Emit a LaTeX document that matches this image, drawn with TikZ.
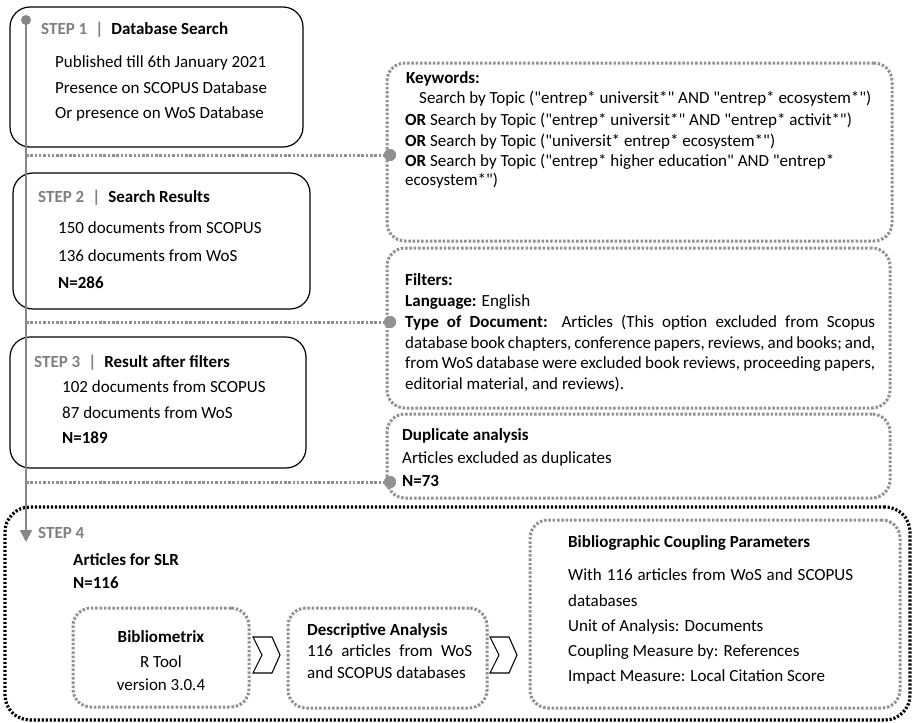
\documentclass[tikz,border=0pt]{standalone}
\usepackage{fontspec}
\setmainfont{Carlito}[Ligatures=TeXOff]
\usetikzlibrary{arrows.meta}
\definecolor{stepgray}{RGB}{128,128,128}
\definecolor{linegray}{RGB}{135,135,135}
\definecolor{dotgray}{RGB}{145,145,145}
\newcommand\fs{\fontsize{17}{20}\selectfont}
\newcommand\stephead[2]{\textbf{\color{stepgray}#1\hspace{8pt}|\hspace{8pt}}\textbf{#2}}
\begin{document}
\begin{tikzpicture}[x=1pt,y=-1pt,
  stepbox/.style={draw=black, line width=1.2pt, rounded corners=20pt, inner sep=0pt, outer sep=0pt},
  dotbox/.style={draw=dotgray, line width=3pt, dash pattern=on 2.5pt off 1.8pt, rounded corners=18pt, inner sep=0pt, outer sep=0pt},
  bigbox/.style={draw=black, line width=3.2pt, dash pattern=on 2.2pt off 1.8pt, rounded corners=25pt, inner sep=0pt, outer sep=0pt},
  conn/.style={draw=dotgray, line width=3pt, dash pattern=on 2.5pt off 1.8pt},
  joint/.style={circle, fill=dotgray, minimum size=12pt, inner sep=0pt},
  txt/.style={anchor=base west, inner sep=0pt, font=\fs},
  ctxt/.style={anchor=base, inner sep=0pt, font=\fs},
  chev/.style={draw=black, line width=1.1pt, fill=white, line join=miter}
]
\useasboundingbox (0,0) rectangle (914,723);

% ---- boxes
\node[stepbox, minimum width=293, minimum height=140] (s1) at (156.5,77) {};
\node[stepbox, minimum width=297, minimum height=136] (s2) at (161.5,241) {};
\node[stepbox, minimum width=296, minimum height=131] (s3) at (158,402.5) {};
\node[dotbox, minimum width=505, minimum height=178] (kw) at (639.5,152) {};
\node[dotbox, minimum width=503, minimum height=160] (fl) at (638.5,328) {};
\node[dotbox, minimum width=503, minimum height=84] (dp) at (638.5,456) {};
\node[bigbox, minimum width=905, minimum height=213] (big) at (457.5,613.5) {};
\node[dotbox, minimum width=176, minimum height=99] (bib) at (161,657.5) {};
\node[dotbox, minimum width=199, minimum height=100] (des) at (387.5,658) {};
\node[dotbox, minimum width=370, minimum height=188] (bcp) at (715,614) {};

% ---- chevrons
\coordinate (ch1) at (253,637);
\coordinate (ch2) at (490,637);
\draw[chev] (ch1) -- ++(19,0) -- ++(8,18) -- ++(-8,18) -- ++(-19,0) -- ++(9,-18) -- cycle;
\draw[chev] (ch2) -- ++(19,0) -- ++(8,18) -- ++(-8,18) -- ++(-19,0) -- ++(9,-18) -- cycle;

% ---- connectors
\coordinate (c1) at (26,155);
\coordinate (c2) at (26,322);
\coordinate (c3) at (26,482);
\node[joint] (j1) at (390,155) {};
\node[joint] (j2) at (390,322) {};
\node[joint] (j3) at (390,482) {};
\draw[conn] (c1) -- (j1.center);
\draw[conn] (c2) -- (j2.center);
\draw[conn] (c3) -- (j3.center);
\fill[dotgray] (j1) circle (6pt);
\fill[dotgray] (j2) circle (6pt);
\fill[dotgray] (j3) circle (6pt);

% ---- vertical timeline
\node[circle, fill=linegray, minimum size=10pt, inner sep=0pt] (top) at (26,20) {};
\coordinate (tip) at (26,542);
\draw[linegray, line width=2pt, -{Triangle[length=12pt,width=12pt]}] (top.center) -- (tip);

% ---- step 1
\node[txt] (s1t) at (41,34) {\stephead{STEP 1}{Database Search}};
\node[txt] (s1a) at (55,67) {Published till 6th January 2021};
\node[txt] (s1b) at (55,93) {Presence on SCOPUS Database};
\node[txt] (s1c) at (55,118) {Or presence on WoS Database};

% ---- step 2
\node[txt] (s2t) at (38,202) {\stephead{STEP 2}{Search Results}};
\node[txt] (s2a) at (58,233) {150 documents from SCOPUS};
\node[txt] (s2b) at (58,261) {136 documents from WoS};
\node[txt] (s2c) at (58,288) {\textbf{N=286}};

% ---- step 3
\node[txt] (s3t) at (34,367) {\stephead{STEP 3}{Result after filters}};
\node[txt] (s3a) at (62,392) {102 documents from SCOPUS};
\node[txt] (s3b) at (62,418) {87 documents from WoS};
\node[txt] (s3c) at (62,443) {\textbf{N=189}};

% ---- keywords
\node[txt] (k0) at (406,83) {\textbf{Keywords:}};
\node[txt] (k1) at (419,103) {Search by Topic ("entrep* universit*" AND "entrep* ecosystem*")};
\node[txt] (k2) at (405,125) {\textbf{OR} Search by Topic ("entrep* universit*" AND "entrep* activit*")};
\node[txt] (k3) at (405,146) {\textbf{OR} Search by Topic ("universit* entrep* ecosystem*")};
\node[txt] (k4) at (405,166) {\textbf{OR} Search by Topic ("entrep* higher education" AND "entrep*};
\node[txt] (k5) at (405,185) {ecosystem*")};

% ---- filters
\node[txt] (f0) at (405,285) {\textbf{Filters:}};
\node[txt] (f1) at (405,306) {\textbf{Language:} English};
\node[txt] (f2) at (405,327) {\makebox[470pt][s]{\textbf{Type of Document:} Articles (This option excluded from Scopus}};
\node[txt] (f3) at (405,348) {\makebox[470pt][s]{database book chapters, conference papers, reviews, and books; and,}};
\node[txt] (f4) at (405,368) {\makebox[470pt][s]{from WoS database were excluded book reviews, proceeding papers,}};
\node[txt] (f5) at (405,389) {editorial material, and reviews).};

% ---- duplicates
\node[txt] (d0) at (402,440) {\textbf{Duplicate analysis}};
\node[txt] (d1) at (402,463) {Articles excluded as duplicates};
\node[txt] (d2) at (402,486) {\textbf{N=73}};

% ---- step 4
\node[txt] (s4t) at (38,538) {\textbf{\color{stepgray}STEP 4}};
\node[txt] (s4a) at (73,565) {\textbf{Articles for SLR}};
\node[txt] (s4b) at (73,588) {\textbf{N=116}};

\node[ctxt] (b0) at (161,642) {\textbf{Bibliometrix}};
\node[ctxt] (b1) at (161,667) {R Tool};
\node[ctxt] (b2) at (161,690) {version 3.0.4};

\node[txt] (e0) at (307,635) {\textbf{Descriptive Analysis}};
\node[txt] (e1) at (307,656) {\makebox[165pt][s]{116 articles from WoS}};
\node[txt] (e2) at (307,678) {and SCOPUS databases};

\node[txt] (p0) at (568,547) {\textbf{Bibliographic Coupling Parameters}};
\node[txt] (p1) at (568,580) {\makebox[285pt][s]{With 116 articles from WoS and SCOPUS}};
\node[txt] (p2) at (568,606) {databases};
\node[txt] (p3) at (568,631) {Unit of Analysis: Documents};
\node[txt] (p4) at (568,656) {Coupling Measure by: References};
\node[txt] (p5) at (568,681) {Impact Measure: Local Citation Score};
\end{tikzpicture}
\end{document}
